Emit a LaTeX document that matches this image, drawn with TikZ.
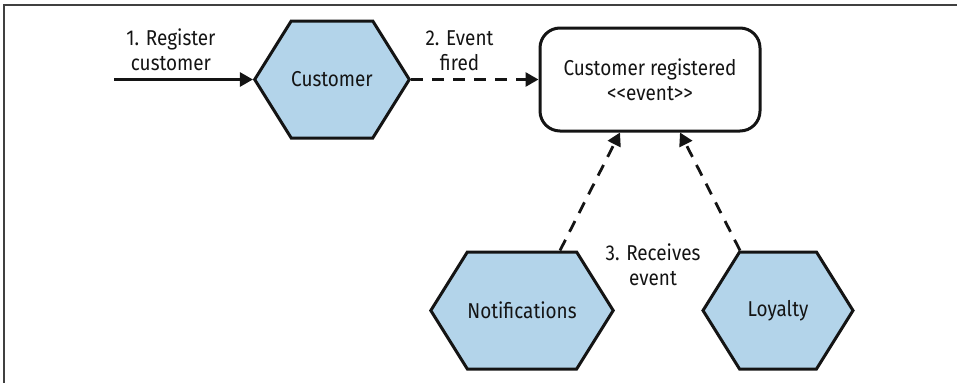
\documentclass[tikz,border=0pt]{standalone}
\usepackage{fontspec}
\setmainfont{Fira Sans}[FakeStretch=0.88, Ligatures=TeXOff]
\usetikzlibrary{shapes.symbols,arrows.meta,positioning,calc}
\definecolor{hexblue}{RGB}{179,212,234}
\definecolor{inkdark}{RGB}{20,20,20}
\begin{document}
\begin{tikzpicture}
        [x=1pt,y=-1pt,
         font=\fontsize{21.5}{25}\selectfont,
         hexnode/.style={signal, signal to=east and west, signal pointer angle=116,
                         draw=inkdark, fill=hexblue, line width=3pt, text=inkdark,
                         minimum width=150pt, minimum height=117pt, inner sep=0pt},
         eventbox/.style={draw=inkdark, rounded corners=20pt, line width=3pt, align=center,
                          minimum width=220pt, minimum height=103pt, text=inkdark},
         lbl/.style={align=center, text=inkdark},
         flow/.style={draw=inkdark, line width=2.8pt, -{Triangle[length=13pt,width=14pt]}},
         evflow/.style={flow, dash pattern=on 12pt off 9pt}]
        \useasboundingbox (0,0) rectangle (957,383);
        %cornice
            \draw[black!75, line width=1.6pt] (957,5) -- (4,5) -- (4,383);
        %esagoni e evento
            \node[hexnode] (cust) at (332,79.5) {Customer};
            \node[eventbox] (event) at (650,79.5) {Customer registered\\<<event>>};
            \node[hexnode] (notif) at (522,310.5) {Notifications};
            \node[hexnode] (loyal) at (778,310.5) {Loyalty};
        %collegamenti
            \coordinate (entry) at (114,79.5);
            \draw[flow] (entry) -- (cust.west)
                node[lbl, pos=0.41, above=4pt]{1. Register\\customer};
            \draw[evflow] (cust.east) -- (event.west)
                node[lbl, pos=0.38, above=4pt]{2. Event\\fired};
            \draw[evflow] ([xshift=38pt]notif.north) -- ([xshift=-30pt]event.south);
            \draw[evflow] ([xshift=-38pt]loyal.north) -- ([xshift=30pt]event.south);
        %label
            \node[lbl] (recv) at (653,265) {3. Receives\\event};
    \end{tikzpicture}
\end{document}
